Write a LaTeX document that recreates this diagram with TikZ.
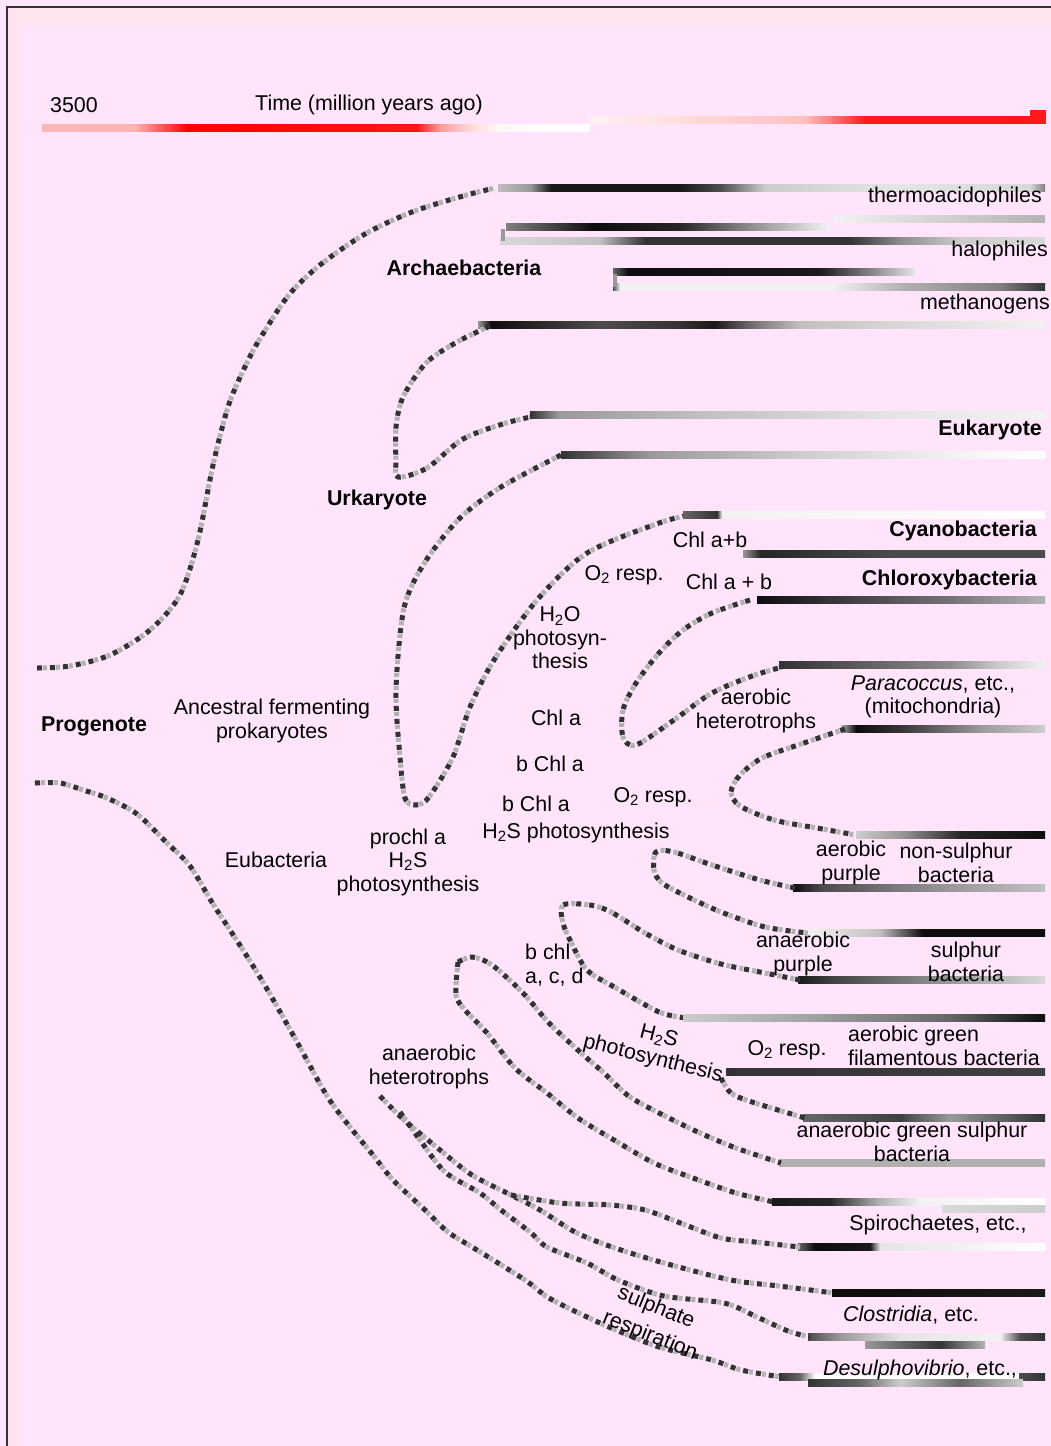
\documentclass[tikz,border=0pt]{standalone}
\usepackage{fontspec}
\setmainfont{Liberation Sans}
\usetikzlibrary{calc}
\definecolor{bgpink}{RGB}{255,228,252}
\definecolor{edgepink}{RGB}{255,228,240}

%% horizontal lineage bar: colour, y, first x, first level, further x/level stops
\newcommand\lineage[5]{%
  \foreach \xa/\la [remember=\xa as \xb (initially #3),
                    remember=\la as \lb (initially #4)] in {#5}
    {\shade[left color=#1!\lb!white, right color=#1!\la!white]
       (\xb,#2-3.5) rectangle (\xa,#2+3.5);}}

\begin{document}
\begin{tikzpicture}[
  x=1pt, y=-1pt,
  lbl/.style={inner sep=0pt, align=center, font=\fontsize{21.4}{23.5}\selectfont},
  taxon/.style={lbl, font=\fontsize{21.4}{23.5}\selectfont\bfseries},
  branch/.style={line width=5pt, draw=black!80, dash pattern=on 5pt off 8pt,
    preaction={draw=black!30, line width=5pt, dash pattern=on 4pt off 9pt, dash phase=7pt}}
]
  \useasboundingbox (0,0) rectangle (1051,1446);
  \fill[bgpink] (0,0) rectangle (1051,1446);
  \fill[edgepink] (7,7) rectangle (1051,25);
  \fill[edgepink] (7,7) rectangle (19,1446);
  \draw[line width=2pt, black!80] (7,1446) -- (7,7) -- (1051,7);

  %% time axis
  \node[lbl] (t3500) at (74,105) {3500};
  \node[lbl] (time) at (369,105) {Time (million years ago)};
  \lineage{red}{128}{42}{28}{134/30, 188/100, 416/92, 440/40, 470/15, 500/2, 590/0}
  \lineage{red}{120}{590}{5}{805/25, 866/90, 1030/92}
  \fill[red!90] (1030,110) rectangle (1046,124);

  %% Archaebacteria
  \draw[branch] plot[smooth] coordinates {(37,668) (70,666) (110,655) (150,630)
    (180,595) (198,540) (213,465) (228,407) (243,371) (258,342) (288,296)
    (320,265) (365,234) (412,212) (463,196) (495,188)};
  \lineage{black}{188}{498}{25}{530/40, 551/90, 680/90, 720/70, 765/20, 900/10, 1030/15, 1045/50}
  \lineage{black}{219}{833}{5}{1045/30}
  \lineage{black}{227}{506}{50}{594/95, 680/85, 740/50, 808/15, 830/5}
  \lineage{black}{241}{500}{15}{600/25, 645/80, 850/80, 900/45, 960/20, 1045/15}
  \draw[line width=4pt, black!40] (503,229) -- (503,241);
  \lineage{black}{272}{613}{60}{628/95, 820/90, 880/40, 915/10}
  \lineage{black}{287}{613}{70}{620/5, 833/5, 900/30, 1000/50, 1045/80}
  \draw[line width=4pt, black!40] (615,274) -- (615,287);
  \node[lbl, anchor=east] (thermo) at (1042,197) {thermoacidophiles};
  \node[lbl, anchor=east] (halo) at (1048,251) {halophiles};
  \node[lbl, anchor=east] (metha) at (1050,304) {methanogens};
  \node[taxon] (archae) at (464,268) {Archaebacteria};

  %% Urkaryote and Eukaryote
  \lineage{black}{325}{478}{40}{491/95, 600/70, 680/80, 714/90, 760/50, 800/25, 900/15, 1045/5}
  \draw[branch] plot[smooth] coordinates {(490,326) (457,342) (426,363) (403,397)
    (396,427) (396,460) (398,477) (427,468) (463,439) (506,423) (540,415)};
  \lineage{black}{415}{530}{80}{559/40, 700/25, 900/10, 1045/5}
  \lineage{black}{455}{561}{80}{583/70, 650/40, 800/20, 950/5, 1045/0}
  \node[taxon, anchor=east] (euk) at (1042,430) {Eukaryote};
  \node[taxon] (urk) at (377,500) {Urkaryote};
  \draw[branch] plot[smooth] coordinates {(561,455) (501,487) (460,518) (425,562)
    (404,608) (396,690) (400,757) (405,798) (416,805) (429,797) (453,757)
    (470,707) (494,660) (537,600) (587,553) (659,523) (690,515)};

  %% Cyanobacteria, Chloroxybacteria
  \lineage{black}{515}{683}{60}{717/80, 722/5, 1045/0}
  \lineage{black}{554}{743}{40}{760/85, 900/70, 1045/70}
  \lineage{black}{600}{757}{95}{827/80, 950/55, 1045/30}
  \node[taxon, anchor=east] (cyano) at (1037,531) {Cyanobacteria};
  \node[taxon, anchor=east] (chloroxy) at (1037,580) {Chloroxybacteria};
  \draw[branch] plot[smooth] coordinates {(750,600) (712,613) (683,630) (659,653)
    (636,683) (623,710) (623,737) (636,745) (674,720) (712,693) (755,675) (790,665)};
  \lineage{black}{665}{779}{80}{830/70, 950/45, 1000/20, 1045/5}
  \lineage{black}{729}{841}{30}{856/95, 899/80, 980/40, 1045/20}
  \draw[branch] plot[smooth] coordinates {(845,729) (798,745) (762,758) (740,775)
    (731,792) (740,806) (774,820) (817,828) (856,835)};
  \lineage{black}{835}{856}{20}{900/40, 960/85, 1045/95}

  %% purple bacteria
  \lineage{black}{888}{793}{95}{822/70, 950/40, 1045/25}
  \draw[branch] plot[smooth] coordinates {(795,888) (760,880) (712,865) (674,852)
    (656,852) (654,870) (662,883) (688,897) (721,912) (765,927) (808,933)};
  \lineage{black}{933}{808}{5}{880/25, 923/95, 1045/95}
  \lineage{black}{980}{798}{90}{830/75, 950/40, 1045/15}
  \draw[branch] plot[smooth] coordinates {(800,980) (760,972) (721,964) (678,950)
    (645,933) (611,912) (590,905) (563,905) (563,923) (571,942) (587,970)
    (616,988) (659,1012) (686,1018)};

  %% green bacteria
  \lineage{black}{1018}{683}{20}{800/35, 950/60, 1045/95}
  \lineage{black}{1072}{726}{80}{1045/75}
  \lineage{black}{1118}{803}{60}{900/75, 950/40, 1045/80}
  \lineage{black}{1163}{779}{31}{1045/31}
  \draw[branch] plot[smooth] coordinates {(458,962) (472,957) (492,965) (523,993)
    (549,1023) (580,1052) (604,1073) (630,1097) (669,1118) (700,1133) (736,1148) (781,1163)};
  \draw[branch] plot[smooth] coordinates {(721,1078) (731,1093) (752,1102) (805,1118)};
  \draw[branch] plot[smooth] coordinates {(458,962) (456,995) (465,1010) (487,1033)
    (515,1068) (547,1093) (578,1118) (614,1140) (654,1163) (693,1178) (736,1193) (774,1202)};

  %% Spirochaetes, Clostridia, Desulphovibrio
  \lineage{black}{1202}{772}{90}{830/85, 880/30, 920/5, 1045/0}
  \lineage{black}{1209}{942}{15}{1045/20}
  \lineage{black}{1247}{798}{60}{815/95, 870/90, 880/10, 1045/0}
  \lineage{black}{1293}{832}{95}{1045/90}
  \lineage{black}{1337}{808}{70}{840/40, 900/10, 1000/5, 1020/70, 1045/80}
  \lineage{black}{1345}{865}{40}{940/80, 985/30}
  \lineage{black}{1377}{779}{80}{800/60, 815/0, 1018/0, 1019/70, 1045/80}
  \lineage{black}{1383}{808}{80}{860/60, 900/20, 960/60, 1023/20}
  \draw[branch] plot[smooth] coordinates {(380,1096) (403,1119) (440,1150)
    (472,1175) (511,1195) (540,1210) (575,1232) (612,1247) (664,1263)
    (731,1280) (779,1286) (834,1293)};
  \draw[branch] plot[smooth] coordinates {(511,1195) (560,1203) (610,1205)
    (645,1210) (683,1224) (721,1238) (755,1242) (800,1247)};
  \draw[branch] plot[smooth] coordinates {(400,1112) (420,1140) (445,1172)
    (480,1193) (501,1210) (530,1232) (547,1247) (587,1263) (618,1280)
    (664,1296) (724,1303) (757,1317) (788,1331) (810,1337)};
  \draw[branch] plot[smooth] coordinates {(35,783) (60,783) (83,790) (107,798)
    (137,814) (167,843) (190,866) (213,904) (243,950) (267,989) (297,1042)
    (327,1096) (350,1127) (373,1155) (393,1180) (425,1210) (448,1232)
    (477,1250) (525,1280) (549,1298) (587,1317) (616,1330) (659,1347)
    (712,1360) (741,1370) (781,1377)};

  %% labels along the Eubacteria
  \node[taxon] (progenote) at (94,726) {Progenote};
  \node[lbl] (ancestral) at (272,721) {Ancestral fermenting\\prokaryotes};
  \node[lbl] (eubact) at (276,860) {Eubacteria};
  \node[lbl] (prochl) at (408,862) {prochl a\\H\textsubscript{2}S\\photosynthesis};
  \node[lbl] (chlab) at (710,540) {Chl a+b};
  \node[lbl] (resp1) at (624,575) {O\textsubscript{2} resp.};
  \node[lbl] (chlab2) at (729,582) {Chl a + b};
  \node[lbl] (h2o) at (560,638) {H\textsubscript{2}O\\photosyn-\\thesis};
  \node[lbl] (chla) at (556,718) {Chl a};
  \node[lbl] (aerhet) at (756,711) {aerobic\\heterotrophs};
  \node[lbl] (para) at (933,697) {\textit{Paracoccus}, etc.,\\(mitochondria)};
  \node[lbl] (bchla1) at (550,764) {b Chl a};
  \node[lbl] (bchla2) at (536,804) {b Chl a};
  \node[lbl] (resp2) at (653,797) {O\textsubscript{2} resp.};
  \node[lbl] (h2s1) at (576,833) {H\textsubscript{2}S photosynthesis};
  \node[lbl] (aerpur) at (851,863) {aerobic\\purple};
  \node[lbl] (nonsul) at (956,863) {non-sulphur\\bacteria};
  \node[lbl] (anapur) at (803,954) {anaerobic\\purple};
  \node[lbl] (sulbac) at (966,962) {sulphur\\bacteria};
  \node[lbl, anchor=west, align=left] (bchl) at (525,965) {b chl\\a, c, d};
  \node[lbl, rotate=-14] (h2s2) at (659,1037) {H\textsubscript{2}S};
  \node[lbl, rotate=-14] (photo2) at (653,1059) {photosynthesis};
  \node[lbl] (resp3) at (787,1050) {O\textsubscript{2} resp.};
  \node[lbl, anchor=west, align=left] (aergreen) at (848,1046) {aerobic green\\filamentous bacteria};
  \node[lbl] (anagreen) at (912,1142) {anaerobic green sulphur\\bacteria};
  \node[lbl] (anahet) at (429,1067) {anaerobic\\heterotrophs};
  \node[lbl] (spiro) at (938,1225) {Spirochaetes, etc.,};
  \node[lbl, rotate=-22] (sulph) at (656,1308) {sulphate};
  \node[lbl, rotate=-22] (respir) at (650,1336) {respiration};
  \node[lbl] (clost) at (911,1315) {\textit{Clostridia}, etc.};
  \node[lbl] (desulf) at (920,1370) {\textit{Desulphovibrio}, etc.,};
\end{tikzpicture}
\end{document}
